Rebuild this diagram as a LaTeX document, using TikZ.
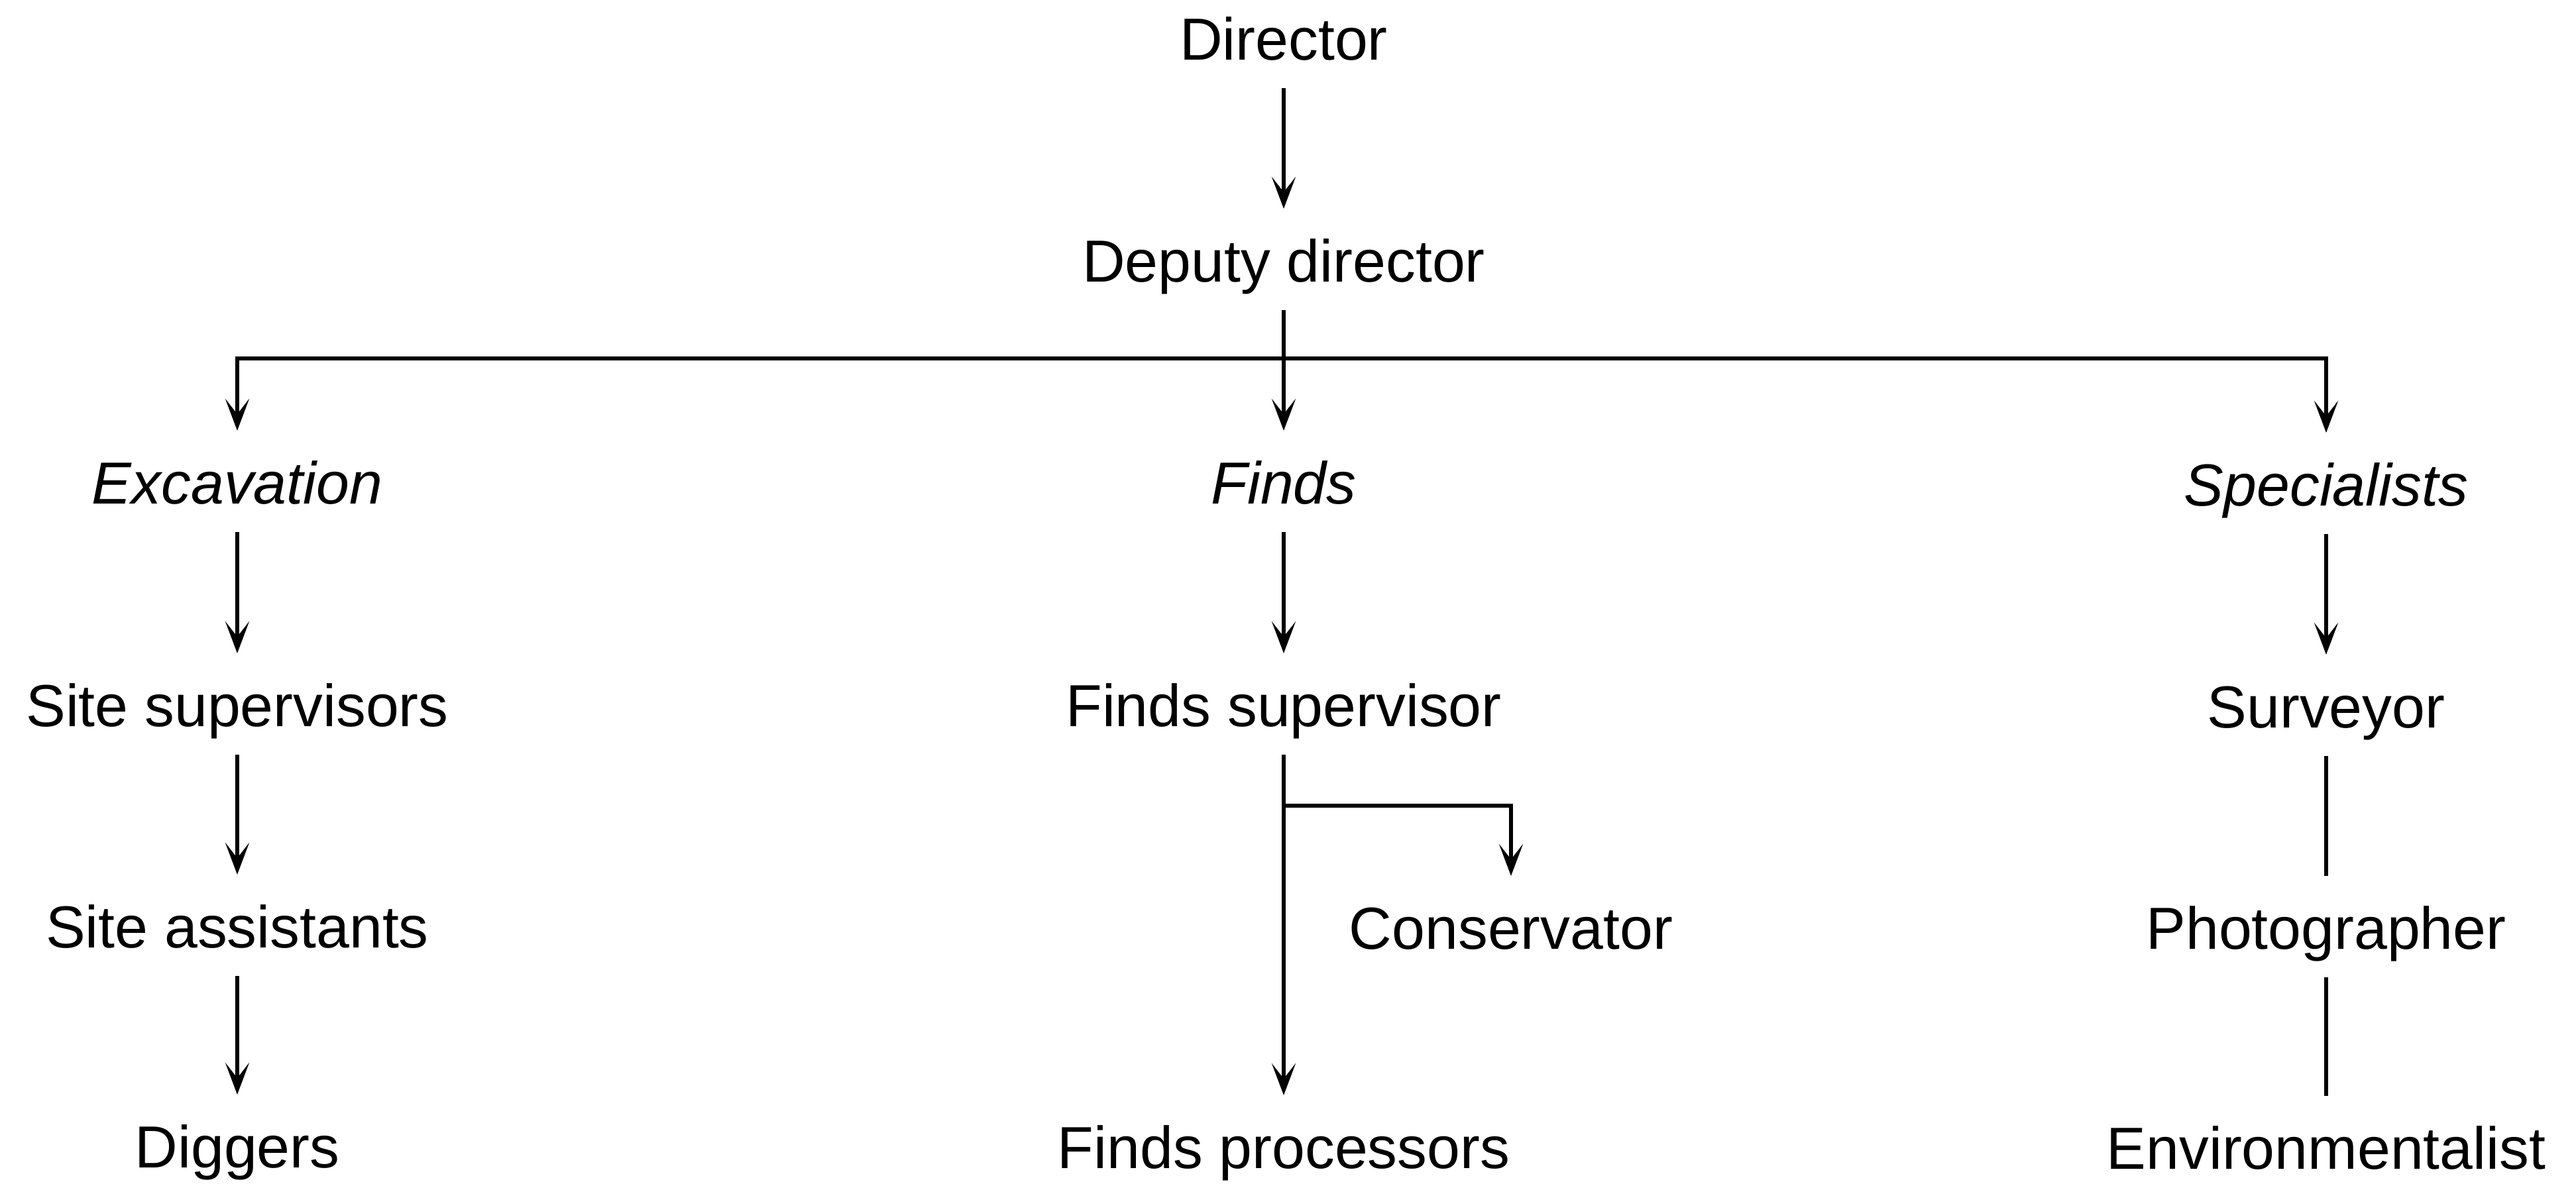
\documentclass[tikz,border=0pt]{standalone}
\usepackage{fontspec}
\setmainfont{Liberation Sans}
\usetikzlibrary{arrows.meta}

\begin{document}
\begin{tikzpicture}[
    every node/.style={anchor=base, font=\fontsize{25.5pt}{30pt}\selectfont,
        text height=0.67cm, text depth=0pt, inner xsep=0pt, inner ysep=0.4cm},
    unit/.style={font=\fontsize{25.5pt}{30pt}\selectfont\itshape},
    line width=1.7pt,
    >={Stealth[length=4.8mm, width=3.6mm, inset=2.3mm]}
  ]
    \useasboundingbox (0,0) rectangle (38.87,-17.89);

    \node (dir) at (19.37, -0.90) {Director};
    \node (dep) at (19.37, -4.25) {Deputy director};

    \node[unit] (exc) at (3.58, -7.60) {Excavation};
    \node[unit] (finds) at (19.37, -7.60) {Finds};
    \node[unit] (spec) at (35.10, -7.63) {Specialists};

    \node (ssup) at (3.58, -10.96) {Site supervisors};
    \node (ass) at (3.58, -14.30) {Site assistants};
    \node (dig) at (3.58, -17.62) {Diggers};

    \node (fsup) at (19.37, -10.96) {Finds supervisor};
    \node (cons) at (22.80, -14.32) {Conservator};
    \node (fproc) at (19.37, -17.63) {Finds processors};

    \node (surv) at (35.10, -10.98) {Surveyor};
    \node (phot) at (35.10, -14.32) {Photographer};
    \node (env) at (35.10, -17.64) {Environmentalist};

    \coordinate (bar) at (19.37, -5.41);
    \coordinate (fork) at (19.37, -12.16);

    \draw[->] (dir) -- (dep);
    \draw (dep) -- (bar);
    \draw[->] (bar) -| (exc);
    \draw[->] (bar) -- (finds);
    \draw[->] (bar) -| (spec);

    \draw[->] (exc) -- (ssup);
    \draw[->] (ssup) -- (ass);
    \draw[->] (ass) -- (dig);

    \draw[->] (finds) -- (fsup);
    \draw[->] (fsup) -- (fproc);
    \draw[->] (fork) -| (cons);

    \draw[->] (spec) -- (surv);
    \draw (surv) -- (phot);
    \draw (phot) -- (env);
\end{tikzpicture}
\end{document}
